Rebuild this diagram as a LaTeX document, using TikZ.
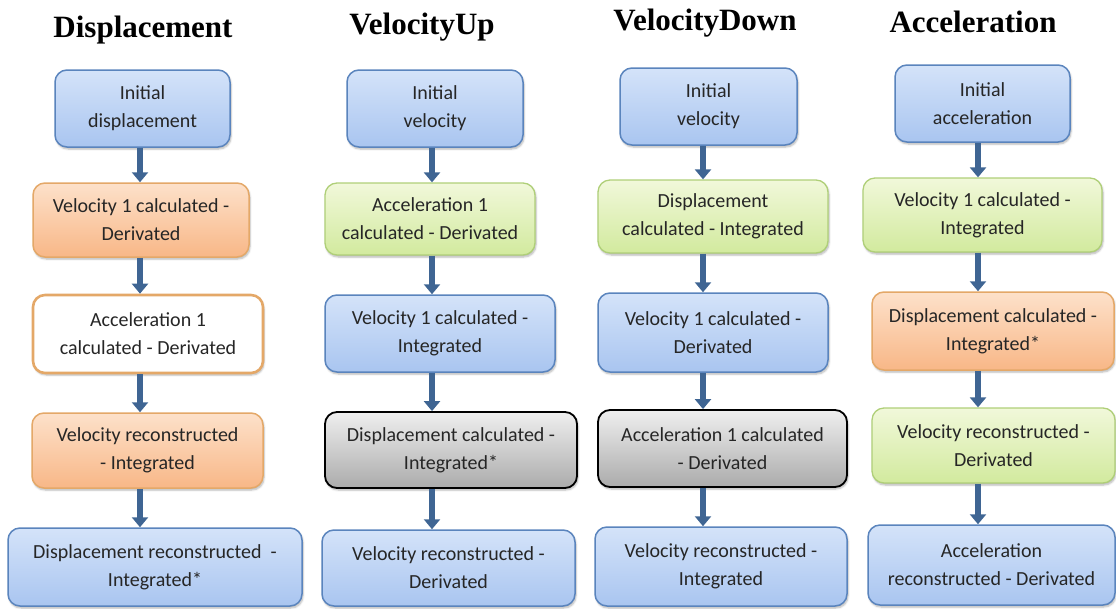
\documentclass[tikz,border=0pt]{standalone}
\usepackage{fontspec}
\setmainfont{Carlito}
\newfontfamily\titlefont{Liberation Serif}
\usetikzlibrary{arrows.meta,shadows.blur}
\definecolor{blueline}{HTML}{5A84BD}
\definecolor{bluetop}{HTML}{D4E3F9}
\definecolor{bluebot}{HTML}{A9C5F0}
\definecolor{orangeline}{HTML}{E4A868}
\definecolor{orangetop}{HTML}{FDE1CA}
\definecolor{orangebot}{HTML}{F8B787}
\definecolor{greenline}{HTML}{AFCF78}
\definecolor{greentop}{HTML}{F1F8DA}
\definecolor{greenbot}{HTML}{D2EA9E}
\definecolor{graytop}{HTML}{EFEFEF}
\definecolor{graybot}{HTML}{ABABAB}
\definecolor{arrowblue}{HTML}{3F6593}

\begin{document}
\begin{tikzpicture}[x=1pt, y=-1pt,
  box/.style={rounded corners=12pt, inner sep=0pt, align=center,
    font=\fontsize{20}{28}\selectfont, text=black!85,
    blur shadow={shadow xshift=1pt, shadow yshift=-2pt, shadow blur steps=5, shadow opacity=30}},
  bluebox/.style={box, draw=blueline, line width=1.5pt, top color=bluetop, bottom color=bluebot},
  orangebox/.style={box, draw=orangeline, line width=1.5pt, top color=orangetop, bottom color=orangebot},
  greenbox/.style={box, draw=greenline, line width=1.3pt, top color=greentop, bottom color=greenbot},
  graybox/.style={box, draw=black, line width=1.8pt, top color=graytop, bottom color=graybot},
  whitebox/.style={box, draw=orangeline, line width=2.6pt, fill=white},
  coltitle/.style={anchor=base, font=\titlefont\bfseries\fontsize{31}{31}\selectfont},
  flow/.style={draw=arrowblue, line width=6pt, -{Triangle[width=16pt,length=10pt]}}]
  \useasboundingbox (0,0) rectangle (1116,608);

  % column titles
  \node[coltitle] (tdisp) at (143,37) {Displacement};
  \node[coltitle] (tvup) at (422,34) {VelocityUp};
  \node[coltitle] (tvdown) at (705,30) {VelocityDown};
  \node[coltitle] (tacc) at (973,32) {Acceleration};

  % Displacement column
  \node[bluebox, minimum width=175pt, minimum height=77pt] (d1) at (142.5,108.5) {Initial\\displacement};
  \node[orangebox, minimum width=216pt, minimum height=74pt] (d2) at (141,220) {Velocity 1 calculated -\\Derivated};
  \node[whitebox, minimum width=230pt, minimum height=78pt] (d3) at (148,334) {Acceleration 1\\calculated - Derivated};
  \node[orangebox, minimum width=231pt, minimum height=75pt] (d4) at (147.5,450.5) {Velocity reconstructed\\- Integrated};
  \node[bluebox, minimum width=294pt, minimum height=78pt] (d5) at (155,567) {Displacement reconstructed\ \ -\\Integrated*};

  % VelocityUp column
  \node[bluebox, minimum width=176pt, minimum height=77pt] (u1) at (435,108.5) {Initial\\velocity};
  \node[greenbox, minimum width=210pt, minimum height=72pt] (u2) at (430,219) {Acceleration 1\\calculated - Derivated};
  \node[bluebox, minimum width=230pt, minimum height=77pt] (u3) at (440,333.5) {Velocity 1 calculated -\\Integrated};
  \node[graybox, minimum width=252pt, minimum height=76pt] (u4) at (451,450) {Displacement calculated -\\Integrated*};
  \node[bluebox, minimum width=253pt, minimum height=76pt] (u5) at (448.5,568) {Velocity reconstructed -\\Derivated};

  % VelocityDown column
  \node[bluebox, minimum width=177pt, minimum height=77pt] (w1) at (708.5,106.5) {Initial\\velocity};
  \node[greenbox, minimum width=230pt, minimum height=73pt] (w2) at (713,216.5) {Displacement\\calculated - Integrated};
  \node[bluebox, minimum width=230pt, minimum height=79pt] (w3) at (713,332.5) {Velocity 1 calculated -\\Derivated};
  \node[graybox, minimum width=249pt, minimum height=77pt] (w4) at (722.5,448.5) {Acceleration 1 calculated\\- Derivated};
  \node[bluebox, minimum width=252pt, minimum height=79pt] (w5) at (721,566.5) {Velocity reconstructed -\\Integrated};

  % Acceleration column
  \node[bluebox, minimum width=175pt, minimum height=77pt] (a1) at (982.5,103.5) {Initial\\acceleration};
  \node[greenbox, minimum width=239pt, minimum height=74pt] (a2) at (982.5,215) {Velocity 1 calculated -\\Integrated};
  \node[orangebox, minimum width=242pt, minimum height=78pt] (a3) at (993,331) {Displacement calculated -\\Integrated*};
  \node[greenbox, minimum width=243pt, minimum height=75pt] (a4) at (993.5,445.5) {Velocity reconstructed -\\Derivated};
  \node[bluebox, minimum width=247pt, minimum height=80pt] (a5) at (991.5,565) {Acceleration\\reconstructed - Derivated};

  % arrow lines
  \coordinate (xd) at (140,0);
  \coordinate (xu) at (432,0);
  \coordinate (xw) at (703,0);
  \coordinate (xa) at (978,0);
  \draw[flow] (d1.south -| xd) -- (d2.north -| xd);
  \draw[flow] (d2.south -| xd) -- (d3.north -| xd);
  \draw[flow] (d3.south -| xd) -- (d4.north -| xd);
  \draw[flow] (d4.south -| xd) -- (d5.north -| xd);
  \draw[flow] (u1.south -| xu) -- (u2.north -| xu);
  \draw[flow] (u2.south -| xu) -- (u3.north -| xu);
  \draw[flow] (u3.south -| xu) -- (u4.north -| xu);
  \draw[flow] (u4.south -| xu) -- (u5.north -| xu);
  \draw[flow] (w1.south -| xw) -- (w2.north -| xw);
  \draw[flow] (w2.south -| xw) -- (w3.north -| xw);
  \draw[flow] (w3.south -| xw) -- (w4.north -| xw);
  \draw[flow] (w4.south -| xw) -- (w5.north -| xw);
  \draw[flow] (a1.south -| xa) -- (a2.north -| xa);
  \draw[flow] (a2.south -| xa) -- (a3.north -| xa);
  \draw[flow] (a3.south -| xa) -- (a4.north -| xa);
  \draw[flow] (a4.south -| xa) -- (a5.north -| xa);
\end{tikzpicture}
\end{document}
